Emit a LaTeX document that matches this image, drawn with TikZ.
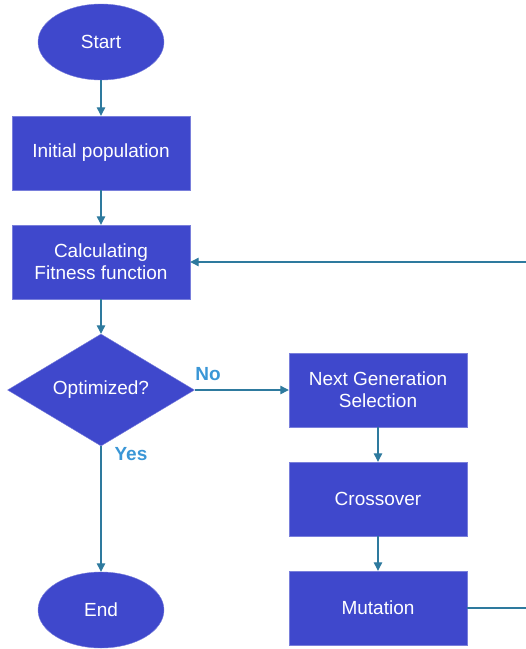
\documentclass[tikz,border=0pt]{standalone}
\usepackage{fontspec}
\setmainfont{Liberation Sans}
\usepackage{tikz}
\usetikzlibrary{arrows.meta, shapes.geometric}

\definecolor{boxblue}{RGB}{63,72,204}
\definecolor{linkblue}{RGB}{46,122,158}
\definecolor{tagblue}{RGB}{58,150,214}

\tikzset{
  stepbox/.style={draw=boxblue!70!white, fill=boxblue, text=white, minimum width=178pt, minimum height=74pt, align=center, inner sep=2pt},
  termbox/.style={ellipse, draw=boxblue!70!white, fill=boxblue, text=white, minimum width=126pt, minimum height=76pt, inner sep=0pt},
  testbox/.style={diamond, draw=boxblue!70!white, fill=boxblue, text=white, minimum width=187pt, minimum height=112pt, aspect=1.67, inner sep=0pt},
  link/.style={draw=linkblue, line width=1.2pt, -{Triangle[length=8.5pt, width=8.5pt]}},
  tag/.style={text=tagblue, font=\fontsize{19}{22}\selectfont\bfseries}
}

\begin{document}
\begin{tikzpicture}[x=1pt, y=-1pt, font=\fontsize{19}{22}\selectfont]
  \useasboundingbox (0,0) rectangle (526,649);

  % Main column
  \node[termbox] (start) at (101, 42) {Start};
  \node[stepbox] (init) at (101, 153) {Initial population};
  \node[stepbox] (fit) at (101, 262) {Calculating\\Fitness function};
  \node[testbox] (opt) at (101, 390) {Optimized?};
  \node[termbox] (stop) at (101, 610) {End};

  % Right column
  \node[stepbox] (sel) at (378, 390) {Next Generation\\Selection};
  \node[stepbox] (cross) at (378, 499) {Crossover};
  \node[stepbox] (mut) at (378, 608) {Mutation};

  % Return corners (at the right edge)
  \coordinate (rb) at (527.5, 608);
  \coordinate (rt) at (527.5, 262);

  % Connectors
  \draw[link] (start) -- (init);
  \draw[link] (init) -- (fit);
  \draw[link] (fit) -- (opt);
  \draw[link] (opt.south) -- (stop);
  \draw[link] (opt.east) -- (sel);
  \draw[link] (sel) -- (cross);
  \draw[link] (cross) -- (mut);
  \draw[link] (mut.east) -- (rb) -- (rt) -- (fit.east);

  % Branch labels
  \node[tag] (no) at (208, 374) {No};
  \node[tag] (yes) at (131, 454) {Yes};
\end{tikzpicture}
\end{document}
